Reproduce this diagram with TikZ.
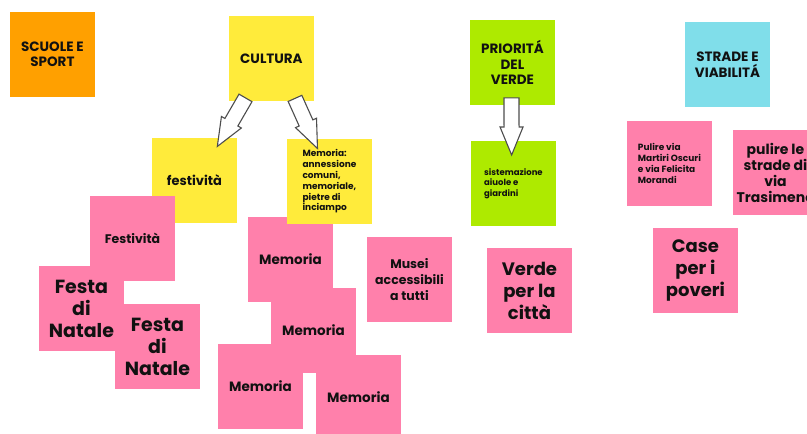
\documentclass[tikz,border=0pt]{standalone}
\usepackage{fontspec}
\setmainfont{Poppins}
\usetikzlibrary{calc}
\definecolor{orangeN}{HTML}{FFA000}
\definecolor{yellowN}{HTML}{FFEB3B}
\definecolor{pinkN}{HTML}{FF80AB}
\definecolor{greenN}{HTML}{AEEA00}
\definecolor{cyanN}{HTML}{80DEEA}
\definecolor{ink}{HTML}{111111}
\definecolor{arrgray}{HTML}{4D4D4D}
\newcommand\fs[2]{\fontsize{#1}{#2}\selectfont}
\tikzset{
  note/.style={rectangle, inner sep=0pt, minimum size=84.5pt, anchor=north west,
    text=ink, align=center},
  onote/.style={note, fill=orangeN},
  ynote/.style={note, fill=yellowN},
  pnote/.style={note, fill=pinkN},
  gnote/.style={note, fill=greenN},
  cnote/.style={note, fill=cyanN},
  blockarr/.style={draw=arrgray, fill=white, line width=1.1pt, line join=miter},
}
\newcommand\blockarrow[2]{%
  \draw[blockarr] let \p1=($(#2)-(#1)$), \n1={atan2(\y1,\x1)}, \n2={veclen(\x1,\y1)} in
    [shift={(#1)}, rotate=\n1] (0pt,-7.5pt) -- ({\n2-28pt},-7.5pt) -- ({\n2-28pt},-11.5pt)
    -- (\n2,0pt) -- ({\n2-28pt},11.5pt) -- ({\n2-28pt},7.5pt) -- (0pt,7.5pt) -- cycle;}
\begin{document}
\begin{tikzpicture}[x=1pt,y=-1pt]
\useasboundingbox (0,0) rectangle (807,434);
\clip (0,0) rectangle (807,434);
\fill[white] (0,0) rectangle (807,434);

\node[onote, font=\bfseries\fs{13.5}{15.5}] (scuole) at (10,12) {SCUOLE E\\SPORT};
\node[ynote, font=\bfseries\fs{13.5}{15.5}] (cultura) at (229,16) {CULTURA};
\node[ynote, font=\bfseries\fs{13}{15}] (fest) at (152,138) {festività};
\node[pnote, font=\bfseries\fs{12.5}{15}] (festp) at (90,196) {Festività};
\node[pnote, font=\bfseries\fs{19}{22}] (festa1) at (39,266) {Festa\\di\\Natale};
\node[pnote, font=\bfseries\fs{19}{22}] (festa2) at (115,304) {Festa\\di\\Natale};
\node[pnote, font=\bfseries\fs{13.5}{15.5}] (mem1) at (248,217) {Memoria};
\node[ynote, align=left, font=\bfseries\fs{9}{10.8}] (memy) at (287,139)
  {Memoria:\\annessione\\comuni,\\memoriale,\\pietre di\\inciampo};
\node[pnote, font=\bfseries\fs{13.5}{15.5}] (mem2) at (271,288) {Memoria};
\node[pnote, font=\bfseries\fs{13.5}{15.5}] (mem3) at (218,344) {Memoria};
\node[pnote, font=\bfseries\fs{13.5}{15.5}] (mem4) at (316,355) {Memoria};
\node[pnote, font=\bfseries\fs{12.5}{16}] (musei) at (367,237) {Musei\\accessibili\\a tutti};
\node[pnote, font=\bfseries\fs{18}{22}] (verde) at (487,248) {Verde\\per la\\città};
\node[gnote, font=\bfseries\fs{13.5}{15.5}] (prio) at (470,20) {PRIORITÁ\\DEL\\VERDE};
\node[gnote, align=left, font=\bfseries\fs{8.5}{10.5}] (sist) at (471,141)
  {sistemazione\\aiuole e\\giardini};
\node[cnote, font=\bfseries\fs{13.5}{16}] (strade) at (685,22) {STRADE E\\VIABILITÁ};
\node[pnote, align=left, font=\bfseries\fs{9}{11}] (pulire1) at (627,121)
  {Pulire via\\Martiri Oscuri\\e via Felicita\\Morandi};
\node[pnote, font=\bfseries\fs{14}{16}] (pulire2) at (733,130) {pulire le\\strade di\\via\\Trasimeno};
\node[pnote, font=\bfseries\fs{18}{22}] (case) at (653,228) {Case\\per i\\poveri};

\coordinate (a1s) at ($(cultura.south west)+(16.5,-3)$);
\coordinate (a1e) at ($(fest.north west)+(65.3,8.5)$);
\coordinate (a2s) at ($(cultura.south west)+(66,-2.5)$);
\coordinate (a2e) at ($(memy.north west)+(30.5,9.5)$);
\coordinate (a3s) at ($(prio.south)+(-1,-7)$);
\coordinate (a3e) at ($(sist.north)+(-1.8,14)$);
\blockarrow{a1s}{a1e}
\blockarrow{a2s}{a2e}
\blockarrow{a3s}{a3e}
\end{tikzpicture}
\end{document}
